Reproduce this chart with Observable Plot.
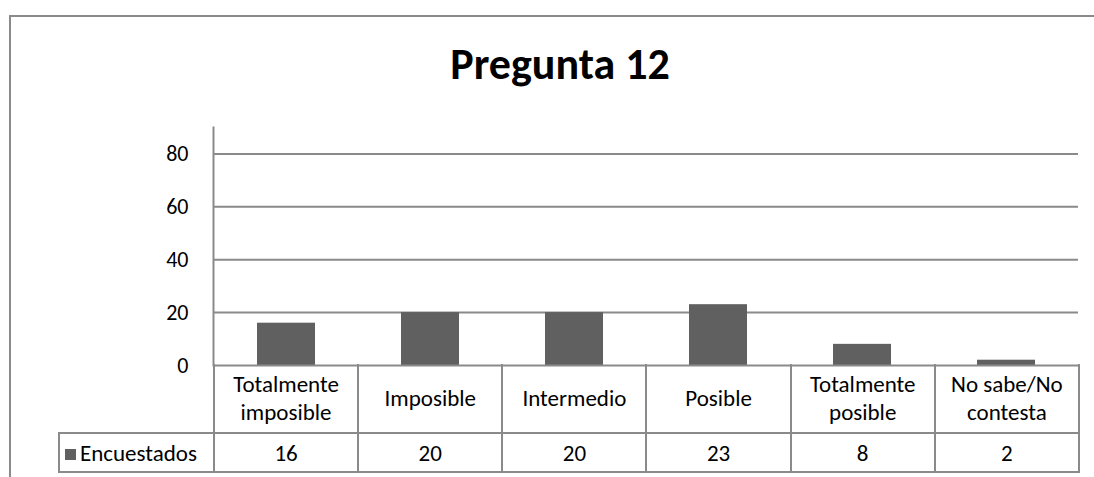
<!DOCTYPE html>
<html>
<head>
<meta charset="utf-8">
<script src="https://cdn.jsdelivr.net/npm/d3@7"></script>
<script src="https://cdn.jsdelivr.net/npm/@observablehq/plot@0.6"></script>
<style>
  html, body { margin: 0; padding: 0; background: #fff; width: 1094px; height: 477px; overflow: hidden; }
  body { position: relative; font-family: Calibri, Carlito, Lato, sans-serif; color: #000; }
  #frame { position: absolute; left: 9px; top: 15px; width: 1200px; height: 600px;
           border-top: 2px solid #8a8a8a; border-left: 2px solid #8a8a8a; box-sizing: border-box; }
  #title { position: absolute; left: 0; top: 38px; width: 1120px; margin: 0; text-align: center;
           font-size: 44px; font-weight: bold; line-height: 1.2; }
  #chart { position: absolute; left: 0; top: 100px; }
  #chart svg { display: block; }
  #table { position: absolute; left: 58px; top: 364px; border-collapse: collapse; table-layout: fixed;
           font-size: 23px; }
  #table td { border: 2px solid #8a8a8a; padding: 0; text-align: center; vertical-align: middle; }
  #table td.blank { border: none; }
  #table tr.cats td { height: 68px; line-height: 28px; white-space: pre-line; border-top: none; }
  #table tr.vals td { height: 37px; line-height: 28px; }
  #table td.legend { text-align: left; padding-left: 5px; white-space: nowrap; }
  .swatch { display: inline-block; width: 11px; height: 11px; background: #606060; margin-right: 4px; vertical-align: 1px; }
</style>
</head>
<body>
<div id="frame"></div>
<h1 id="title"></h1>
<div id="chart"></div>
<table id="table"></table>
<script>
const title = "Pregunta 12";
const categories = ["Totalmente\nimposible", "Imposible", "Intermedio", "Posible", "Totalmente\nposible", "No sabe/No\ncontesta"];
const seriesName = "Encuestados";
const values = [16, 20, 20, 23, 8, 2];
const yTicks = [0, 20, 40, 60, 80];
const yMax = 90;

const FONT = "Calibri, Carlito, Lato, sans-serif";
const GRID = "#8a8a8a";
const BAR = "#606060";

document.getElementById("title").textContent = title;

const data = categories.map((c, i) => ({category: c, value: values[i]}));

const W = 1094, H = 270, ML = 213, MR = 16, TABLE_LEFT = 58;
const chart = Plot.plot({
  width: W,
  height: H,
  marginLeft: ML,
  marginRight: MR,
  marginTop: 27,
  marginBottom: 5,
  style: {fontFamily: FONT, fontSize: "22px", color: "#000", background: "transparent", overflow: "visible"},
  x: {domain: categories, paddingInner: 0.6, paddingOuter: 0.3, axis: null},
  y: {domain: [0, yMax], axis: null},
  marks: [
    Plot.gridY(yTicks.filter(d => d > 0), {stroke: GRID, strokeOpacity: 1, strokeWidth: 2}),
    Plot.barY(data, {x: "category", y: "value", fill: BAR}),
    Plot.ruleY([0], {stroke: GRID, strokeWidth: 2}),
    Plot.frame({anchor: "left", stroke: GRID, strokeWidth: 2}),
    Plot.axisY({ticks: yTicks, tickSize: 0, tickPadding: 25, label: null, fill: "#000", fontSize: 22})
  ]
});
document.getElementById("chart").appendChild(chart);

// data table under the plot, columns aligned with the x band scale
const step = (W - ML - MR) / categories.length;
const table = document.getElementById("table");
const colgroup = document.createElement("colgroup");
const c0 = document.createElement("col"); c0.style.width = (ML - TABLE_LEFT) + "px"; colgroup.appendChild(c0);
categories.forEach(() => { const c = document.createElement("col"); c.style.width = step + "px"; colgroup.appendChild(c); });
table.appendChild(colgroup);
const tr1 = document.createElement("tr"); tr1.className = "cats";
const blank = document.createElement("td"); blank.className = "blank"; tr1.appendChild(blank);
categories.forEach(c => { const td = document.createElement("td"); td.textContent = c; tr1.appendChild(td); });
table.appendChild(tr1);
const tr2 = document.createElement("tr"); tr2.className = "vals";
const leg = document.createElement("td"); leg.className = "legend";
const sw = document.createElement("span"); sw.className = "swatch"; leg.appendChild(sw);
leg.appendChild(document.createTextNode(seriesName));
tr2.appendChild(leg);
values.forEach(v => { const td = document.createElement("td"); td.textContent = String(v); tr2.appendChild(td); });
table.appendChild(tr2);
table.style.width = (ML - TABLE_LEFT + step * categories.length) + "px";
</script>
</body>
</html>
